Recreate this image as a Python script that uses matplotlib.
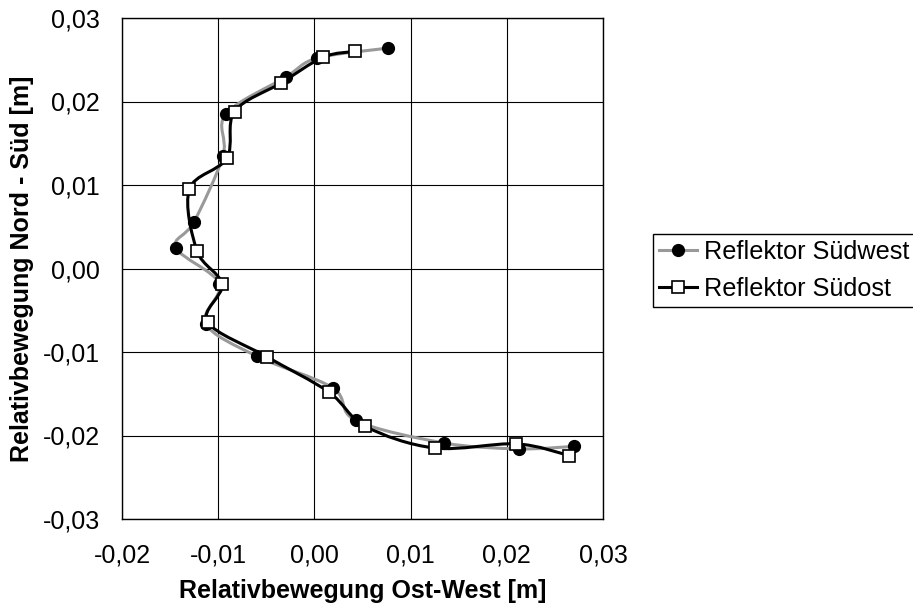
import matplotlib
matplotlib.use("Agg")
import matplotlib.pyplot as plt
import numpy as np
from matplotlib.path import Path
from matplotlib.patches import PathPatch
from matplotlib.lines import Line2D
from matplotlib.ticker import MultipleLocator, FuncFormatter

plt.rcParams['font.family'] = ['Liberation Sans', 'DejaVu Sans']

# Reflektor Südwest (gefüllte Kreise, graue Linie)
sw_x = [0.0077, 0.0003, -0.0030, -0.0092, -0.0095, -0.0125, -0.0144, -0.0099,
        -0.0113, -0.0060, 0.0019, 0.0043, 0.0135, 0.0213, 0.0270]
sw_y = [0.0264, 0.0252, 0.0229, 0.0185, 0.0135, 0.0056, 0.0025, -0.0018,
        -0.0066, -0.0105, -0.0143, -0.0182, -0.0209, -0.0216, -0.0213]
# Reflektor Südost (offene Quadrate, schwarze Linie)
so_x = [0.0042, 0.0009, -0.0035, -0.0083, -0.0091, -0.0130, -0.0122, -0.0096,
        -0.0111, -0.0049, 0.0015, 0.0053, 0.0125, 0.0210, 0.0265]
so_y = [0.0260, 0.0253, 0.0222, 0.0188, 0.0132, 0.0095, 0.0021, -0.0019,
        -0.0064, -0.0106, -0.0148, -0.0189, -0.0215, -0.0210, -0.0224]

labels = ['Reflektor Südwest', 'Reflektor Südost']


def smooth_path(xs, ys):
    """Bezier-Glättung wie bei Excel (Catmull-Rom)."""
    p = np.column_stack([xs, ys])
    n = len(p)
    verts = [p[0]]
    codes = [Path.MOVETO]
    for i in range(n - 1):
        p0 = p[i - 1] if i > 0 else p[i]
        p3 = p[i + 2] if i + 2 < n else p[i + 1]
        c1 = p[i] + (p[i + 1] - p0) / 6
        c2 = p[i + 1] - (p3 - p[i]) / 6
        verts += [c1, c2, p[i + 1]]
        codes += [Path.CURVE4] * 3
    return Path(verts, codes)


fig = plt.figure(figsize=(9.13, 6.10), dpi=100)
ax = fig.add_axes([122 / 913, 1 - 519 / 610, 481 / 913, 501 / 610])

gray = '#999999'
ax.add_patch(PathPatch(smooth_path(sw_x, sw_y), fill=False, edgecolor=gray, lw=2.2, zorder=3))
ax.plot(sw_x, sw_y, ls='none', marker='o', ms=8.5, mfc='black', mec='black', zorder=4)
ax.add_patch(PathPatch(smooth_path(so_x, so_y), fill=False, edgecolor='black', lw=2.2, zorder=5))
ax.plot(so_x, so_y, ls='none', marker='s', ms=8.5, mfc='white', mec='black', mew=1.2, zorder=6)

ax.set_xlim(-0.02, 0.03)
ax.set_ylim(-0.03, 0.03)
ax.xaxis.set_major_locator(MultipleLocator(0.01))
ax.yaxis.set_major_locator(MultipleLocator(0.01))


def komma(v, pos):
    s = '{:.2f}'.format(v).replace('.', ',')
    return '0,00' if s == '-0,00' else s


ax.xaxis.set_major_formatter(FuncFormatter(komma))
ax.yaxis.set_major_formatter(FuncFormatter(komma))
ax.tick_params(axis='both', length=0, labelsize=18)
ax.tick_params(axis='x', pad=18)
ax.tick_params(axis='y', pad=16)
ax.grid(True, color='black', lw=0.8)
ax.set_axisbelow(True)
for s in ax.spines.values():
    s.set_linewidth(1.0)

ax.set_xlabel('Relativbewegung Ost-West [m]', fontsize=18, fontweight='bold', labelpad=8)
ax.set_ylabel('Relativbewegung Nord - Süd [m]', fontsize=18, fontweight='bold', labelpad=6)

handles = [
    Line2D([], [], color=gray, lw=2.2, marker='o', ms=8.5, mfc='black', mec='black'),
    Line2D([], [], color='black', lw=2.2, marker='s', ms=8.5, mfc='white', mec='black', mew=1.2),
]
leg = fig.legend(handles, labels, loc='upper left',
                 bbox_to_anchor=(653 / 913, 1 - 234 / 610), bbox_transform=fig.transFigure,
                 fontsize=18.2, fancybox=False, framealpha=1, edgecolor='black',
                 handlelength=1.5, handletextpad=0.25, labelspacing=0.5,
                 borderpad=0.25, borderaxespad=0)
leg.get_frame().set_linewidth(1.0)

fig.savefig('out.png', dpi=100)
